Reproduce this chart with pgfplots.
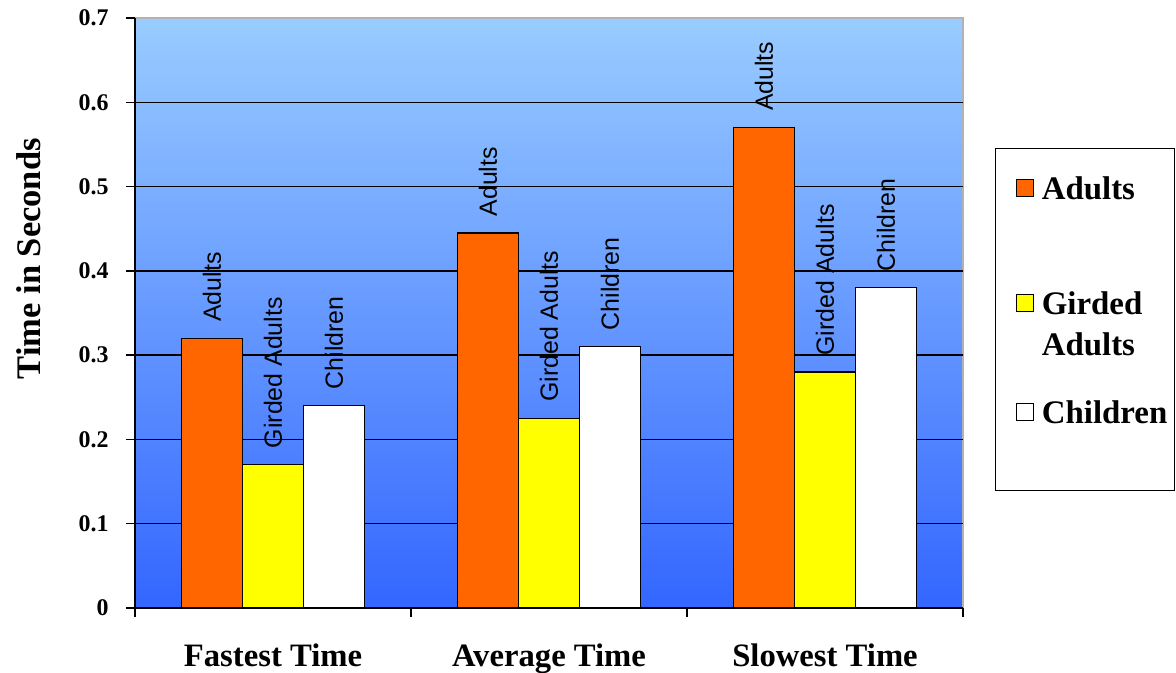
\documentclass[border=0pt]{standalone}
\usepackage{pgfplots}
\pgfplotsset{compat=1.18}
\usepackage{fontspec}
\setmainfont{Liberation Serif}
\newfontfamily\arial{Liberation Sans}
\definecolor{barorange}{RGB}{255,102,0}
\definecolor{baryellow}{RGB}{255,255,0}
\definecolor{bgtop}{RGB}{153,204,255}
\definecolor{bgbot}{RGB}{51,102,255}
\pgfplotsset{
  mylegimg/.style={legend image code/.code={\path (0,0); \draw[##1,line width=0.6bp] (6.5bp,1.5bp) rectangle (15bp,10bp);}},
}
\begin{document}
\begin{tikzpicture}
\begin{axis}[
  at={(0,0)}, anchor=south west,
  scale only axis, width=414bp, height=295bp,
  xmin=-0.5, xmax=2.5, ymin=0, ymax=0.7,
  ybar, bar width=0.2213,
  axis lines*=left,
  axis line style={black, line width=0.7bp, -},
  axis background/.style={shade, top color=bgtop, bottom color=bgbot, draw=gray!60, line width=0.7bp},
  ymajorgrids, grid style={black, line width=0.7bp},
  ytick={0,0.1,0.2,0.3,0.4,0.5,0.6},
  yticklabels={0,0.1,0.2,0.3,0.4,0.5,0.6},
  extra y ticks={0.7}, extra y tick labels={0.7},
  extra y tick style={grid=none},
  xtick={-0.5,0.5,1.5,2.5}, xticklabels={},
  extra x ticks={0,1,2},
  extra x tick labels={Fastest Time, Average Time, Slowest Time},
  extra x tick style={major tick length=0pt, grid=none,
     xticklabel style={font=\bfseries\fontsize{16.4}{16.4}\selectfont, inner sep=0pt, anchor=north, yshift=-17.5bp}},
  tick align=outside, major tick length=4.5bp,
  tick style={black, line width=0.7bp},
  /pgf/number format/assume math mode=true,
  yticklabel style={font=\bfseries\fontsize{12}{12}\selectfont, inner sep=0pt, xshift=-8.5bp},
  ylabel={Time in Seconds},
  ylabel style={font=\bfseries\fontsize{17.3}{17.3}\selectfont, at={(rel axis cs:-0.128,0.592)}, anchor=center, rotate=0},
  every node near coord/.append style={rotate=90, anchor=west, inner xsep=8bp, inner ysep=0pt,
     font=\arial\fontsize{12.5}{12.5}\selectfont, black},
  legend cell align=left,
  legend style={at={(rel axis cs:1.0386,0.7797)}, anchor=north west,
     draw=black, line width=0.7bp, fill=white,
     inner xsep=3.5bp, inner ysep=14bp,
     /tikz/row sep=0pt, /tikz/column sep=4bp,
     nodes={inner sep=0pt},
     cells={anchor=base west},
     font=\bfseries\fontsize{16.5}{19}\selectfont},
]
\addplot[fill=barorange, draw=black, line width=0.6bp, bar shift=-0.2213, mylegimg,
  nodes near coords={Adults}] coordinates {(0,0.32) (1,0.445) (2,0.57)};
\addlegendentry{Adults}
\addplot[fill=baryellow, draw=black, line width=0.6bp, bar shift=0, mylegimg,
  nodes near coords={Girded Adults}] coordinates {(0,0.17) (1,0.225) (2,0.28)};
\addlegendentry{\rule{0pt}{56bp}Girded}
\addlegendimage{empty legend}
\addlegendentry{\rule{0pt}{19bp}Adults}
\addplot[fill=white, draw=black, line width=0.6bp, bar shift=0.2213, mylegimg,
  nodes near coords={Children}] coordinates {(0,0.24) (1,0.31) (2,0.38)};
\addlegendentry{\rule{0pt}{32.5bp}Children}
\addlegendimage{empty legend}
\addlegendentry{\rule{0pt}{16.5bp}}
\end{axis}
\pgfresetboundingbox
\path (-67.5bp,-32.5bp) rectangle (520.5bp,304bp);
\end{tikzpicture}
\end{document}
